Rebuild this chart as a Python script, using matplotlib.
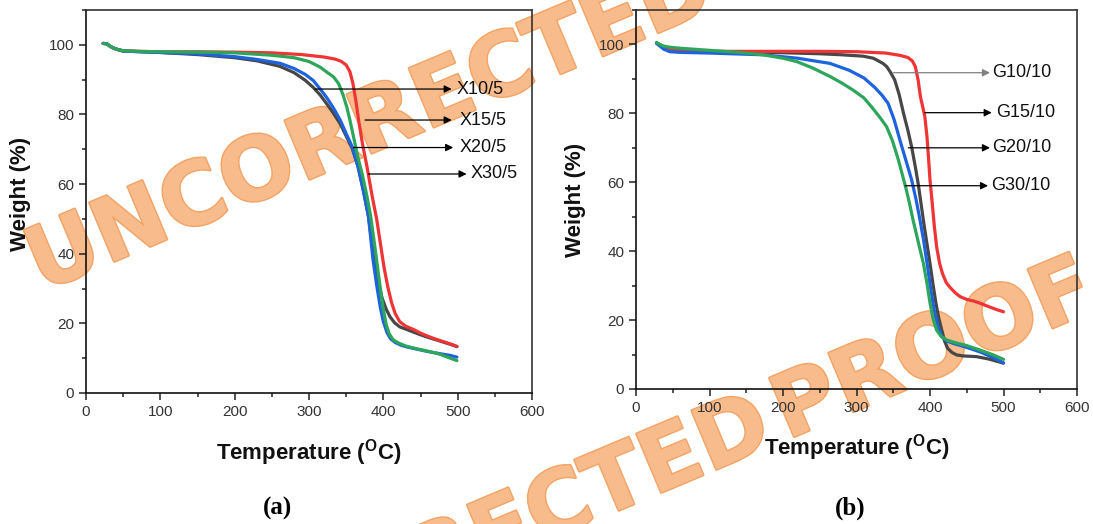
import matplotlib
matplotlib.use("Agg")
import math
import matplotlib.pyplot as plt
import matplotlib.patheffects as pe
from matplotlib.ticker import MultipleLocator

plt.rcParams['font.family'] = ['Liberation Sans', 'DejaVu Sans']
plt.rcParams['mathtext.fontset'] = 'custom'
plt.rcParams['mathtext.rm'] = 'Liberation Sans'
plt.rcParams['mathtext.bf'] = 'Liberation Sans:bold'

# ---------------- data : panel (a) ----------------
a_gray_T = [23, 28, 33, 40, 50, 75, 100, 150, 200, 230, 261, 280, 295, 306, 315, 324, 333, 342, 350, 358, 366, 373, 380, 386, 392, 398, 404, 409, 415, 422, 432, 449, 460, 475, 490, 499]
a_gray_W = [100.4, 100.3, 99.5, 98.8, 98.2, 98.0, 97.8, 97.2, 96.3, 95.4, 93.8, 92.0, 89.8, 87.7, 85.6, 83.0, 80.3, 77.3, 73.8, 70.3, 65.0, 58.3, 50.7, 41.0, 33.0, 27.5, 24.0, 21.9, 20.2, 19.0, 18.2, 16.8, 16.0, 15.0, 14.0, 13.3]

a_red_T = [23, 28, 33, 40, 50, 75, 100, 150, 200, 250, 290, 320, 335, 343, 350, 355, 359, 363, 367, 372, 378, 385, 391, 396, 401, 406, 411, 416, 422, 430, 440, 450, 460, 470, 480, 490, 499]
a_red_W = [100.4, 100.3, 99.5, 98.8, 98.3, 98.1, 98.0, 98.0, 97.9, 97.7, 97.2, 96.5, 95.9, 95.3, 94.2, 92.3, 89.0, 84.0, 78.0, 71.5, 65.0, 56.5, 50.0, 43.0, 36.0, 30.5, 26.0, 22.8, 20.5, 19.2, 18.3, 17.2, 16.3, 15.5, 14.8, 14.1, 13.4]

a_blue_T = [23, 28, 33, 40, 50, 75, 100, 150, 200, 230, 261, 280, 295, 306, 315, 324, 333, 342, 350, 358, 366, 373, 380, 386, 391, 396, 400, 405, 410, 416, 424, 432, 445, 460, 476, 490, 499]
a_blue_W = [100.4, 100.3, 99.5, 98.8, 98.2, 98.0, 97.8, 97.4, 96.6, 95.8, 94.7, 93.2, 91.5, 89.7, 87.3, 84.8, 81.8, 78.4, 74.5, 70.8, 65.0, 58.3, 50.7, 38.5, 31.0, 24.5, 20.5, 17.3, 15.5, 14.5, 13.7, 13.2, 12.6, 11.9, 11.3, 10.8, 10.3]

a_green_T = [23, 28, 33, 40, 50, 75, 100, 150, 200, 250, 280, 300, 315, 325, 333, 340, 346, 351, 355, 360, 366, 372, 378, 383, 388, 392, 396, 400, 404, 408, 413, 420, 430, 445, 460, 475, 490, 499]
a_green_W = [100.4, 100.3, 99.5, 98.8, 98.3, 98.1, 98.0, 97.9, 97.7, 97.0, 96.3, 95.2, 93.6, 92.0, 90.8, 88.8, 85.5, 82.0, 78.4, 73.5, 67.5, 62.5, 56.5, 50.7, 43.0, 36.5, 30.0, 24.0, 19.5, 17.0, 15.3, 14.4, 13.5, 12.7, 12.0, 11.2, 10.0, 9.3]

a_labels = ['X10/5', 'X15/5', 'X20/5', 'X30/5']

# ---------------- data : panel (b) ----------------
b_gray_T = [28, 32, 38, 45, 60, 100, 150, 200, 250, 280, 309, 323, 336, 341, 346, 352, 358, 364, 370, 375, 380, 384, 388, 392, 396, 400, 404, 408, 412, 416, 420, 424, 430, 436, 445, 463, 480, 500]
b_gray_W = [100.4, 100.0, 99.2, 98.5, 98.1, 97.9, 97.8, 97.6, 97.3, 97.0, 96.6, 96.0, 94.5, 93.6, 92.0, 89.7, 85.5, 80.0, 75.0, 70.3, 64.5, 59.5, 53.5, 47.5, 42.0, 36.5, 30.5, 25.0, 20.5, 17.1, 13.8, 11.8, 10.6, 9.9, 9.6, 9.4, 8.7, 7.5]

b_red_T = [28, 32, 38, 45, 60, 100, 150, 200, 250, 300, 340, 360, 370, 376, 380, 384, 387, 390, 393, 396, 398, 400, 403, 406, 409, 413, 417, 422, 428, 435, 441, 450, 460, 468, 480, 490, 500]
b_red_W = [100.4, 100.0, 99.2, 98.6, 98.2, 98.0, 98.0, 98.0, 98.0, 97.9, 97.5, 96.8, 96.2, 95.2, 93.6, 89.5, 84.8, 82.0, 79.0, 73.0, 67.0, 60.7, 54.0, 47.0, 41.3, 36.5, 33.5, 30.9, 29.3, 27.8, 26.8, 26.0, 25.5, 24.9, 23.9, 23.1, 22.4]

b_blue_T = [28, 32, 38, 46, 60, 100, 173, 220, 264, 290, 310, 325, 335, 343, 351, 359, 367, 375, 381, 386, 391, 396, 401, 406, 411, 416, 422, 432, 445, 458, 470, 485, 500]
b_blue_W = [100.3, 99.6, 98.6, 97.9, 97.7, 97.5, 97.0, 96.0, 94.5, 92.5, 90.3, 87.5, 85.2, 82.9, 78.3, 72.3, 66.5, 60.7, 55.0, 49.5, 43.5, 36.5, 29.0, 22.5, 18.0, 15.2, 14.0, 13.2, 12.4, 11.5, 10.6, 9.2, 7.6]

b_green_T = [28, 32, 38, 46, 60, 100, 140, 173, 200, 219, 240, 264, 280, 295, 310, 322, 333, 341, 349, 357, 362, 367, 372, 377, 382, 387, 391, 396, 400, 404, 409, 415, 423, 435, 450, 468, 485, 500]
b_green_W = [100.6, 100.0, 99.5, 99.2, 98.9, 98.3, 97.7, 97.0, 96.0, 95.0, 93.2, 90.7, 88.8, 86.8, 84.5, 81.5, 78.5, 76.1, 72.0, 66.5, 62.5, 58.5, 54.0, 49.0, 44.5, 40.0, 36.5, 30.5, 25.0, 20.5, 17.1, 15.3, 14.2, 13.4, 12.6, 11.3, 10.0, 8.6]

b_labels = ['G10/10', 'G15/10', 'G20/10', 'G30/10']

# annotation arrows: (start T, W, arrow end T, text T)
a_arrows = [(308, 87.3, 492, 498), (375.4, 78.4, 492, 502), (359.6, 70.5, 494, 502), (379.8, 62.9, 512, 518)]
b_arrows = [(350, 91.8, 481.6, 485), (393, 80.2, 484, 490), (370.5, 70.0, 481.6, 485), (366, 59.0, 479, 483)]
b_arrow_colors = ['#808080', 'black', 'black', 'black']
a_arrow_colors = ['black', 'black', 'black', 'black']

wm_words = ['UNCORRECTED', 'PROOF']

C_GRAY = '#474747'
C_RED = '#EE3434'
C_BLUE = '#1E63DE'
C_GREEN = '#2DA65B'

W, H = 1093, 524
fig = plt.figure(figsize=(W / 100, H / 100), dpi=100)

# watermark behind everything
ANG = 22.8
ca, sa = math.cos(math.radians(ANG)), math.sin(math.radians(ANG))
wm_kw = dict(rotation=ANG, rotation_mode='anchor', va='center',
             fontsize=63, fontweight='bold', family='DejaVu Sans', color='#F8BB8C',
             zorder=-5, path_effects=[pe.withStroke(linewidth=2, foreground='#F3A364')])


def wm_line(x0, y0):
    # x0, y0: pixel point (top-left origin) of the gap between the two words
    g = 6
    fig.text((x0 - g * ca) / W, 1 - (y0 + g * sa) / H, wm_words[0], ha='right', **wm_kw)
    fig.text((x0 + g * ca) / W, 1 - (y0 - g * sa) / H, wm_words[1], ha='left', **wm_kw)


# line 1 : starts with "U" near lower-left of panel (a)
fig.text(32 / W, 1 - 270 / H, wm_words[0], ha='left', **wm_kw)
# line 2 : "...CTED PROOF" across the bottom right
wm_line(772, 420)

axA = fig.add_axes([86 / W, 1 - 393 / H, 446 / W, 383 / H])
axB = fig.add_axes([636 / W, 1 - 389 / H, 441 / W, 379 / H])


def style(ax, ylab_x, ylab_y, xlab_y):
    ax.set_facecolor('none')
    ax.set_xlim(0, 600)
    ax.set_ylim(0, 110)
    ax.xaxis.set_major_locator(MultipleLocator(100))
    ax.xaxis.set_minor_locator(MultipleLocator(50))
    ax.yaxis.set_major_locator(MultipleLocator(20))
    ax.yaxis.set_minor_locator(MultipleLocator(10))
    ax.tick_params(which='both', direction='out', top=False, right=False,
                   colors='#222222', labelcolor='#333333', labelsize=11, width=1.1)
    ax.tick_params(which='major', length=5)
    ax.tick_params(which='minor', length=3)
    for s in ax.spines.values():
        s.set_color('#333333')
        s.set_linewidth(1.2)
    ax.spines['left'].set_color('#111111')
    ax.spines['bottom'].set_color('#111111')
    ax.set_xlabel(r'Temperature ($^{\mathbf{O}}$C)', fontsize=16, fontweight='bold', color='#111111')
    ax.set_ylabel('Weight (%)', fontsize=16, fontweight='bold', color='#111111')
    ax.yaxis.set_label_coords(ylab_x, ylab_y)
    ax.xaxis.set_label_coords(0.5, xlab_y)


def draw(ax, series, arrows, labels, acolors):
    for T, Wt, c in series:
        ax.plot(T, Wt, color=c, lw=2.3, solid_capstyle='round', solid_joinstyle='round')
    for (t0, w0, t1, tt), lab, ac in zip(arrows, labels, acolors):
        ax.annotate('', xy=(t1, w0), xytext=(t0, w0),
                    arrowprops=dict(arrowstyle='-|>', color=ac, lw=0.9,
                                    mutation_scale=11, shrinkA=0, shrinkB=0))
        ax.text(tt, w0, lab, ha='left', va='center', fontsize=13, color='#111111')


draw(axA, [(a_gray_T, a_gray_W, C_GRAY), (a_red_T, a_red_W, C_RED),
           (a_blue_T, a_blue_W, C_BLUE), (a_green_T, a_green_W, C_GREEN)],
     a_arrows, a_labels, a_arrow_colors)
draw(axB, [(b_gray_T, b_gray_W, C_GRAY), (b_red_T, b_red_W, C_RED),
           (b_blue_T, b_blue_W, C_BLUE), (b_green_T, b_green_W, C_GREEN)],
     b_arrows, b_labels, b_arrow_colors)

style(axA, -0.123, 0.52, -0.115)
style(axB, -0.113, 0.50, -0.115)

fig.text(277 / W, 1 - 508 / H, '(a)', ha='center', va='center', fontsize=18,
         fontweight='bold', family='Liberation Serif')
fig.text(850 / W, 1 - 508 / H, '(b)', ha='center', va='center', fontsize=18,
         fontweight='bold', family='Liberation Serif')

fig.savefig('out.png', dpi=100)
